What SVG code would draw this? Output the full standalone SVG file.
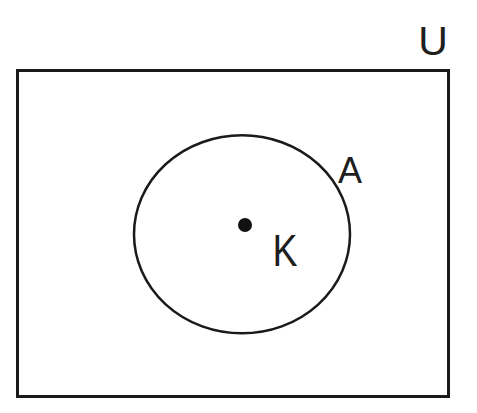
<svg xmlns="http://www.w3.org/2000/svg" width="477" height="413" viewBox="0 0 477 413">
<style>
.lbl{font-family:"Liberation Sans",Arial,sans-serif;fill:#1e1e1e;text-anchor:middle}
.ln{fill:none;stroke:#1a1a1a}
</style>
<rect width="477" height="413" fill="#ffffff"/>
<g id="universe">
<rect class="ln" x="17.5" y="70.5" width="431" height="326" stroke-width="3"/>
<text class="lbl" x="433" y="55" font-size="41">U</text>
</g>
<g id="setA">
<ellipse class="ln" cx="242" cy="234.3" rx="108" ry="99" stroke-width="2.5"/>
<text class="lbl" x="350" y="183" font-size="36">A</text>
</g>
<g id="elementK">
<circle cx="245" cy="225" r="7" fill="#111"/>
<text class="lbl" x="285" y="266" font-size="44" textLength="25" lengthAdjust="spacingAndGlyphs">K</text>
</g>
</svg>
